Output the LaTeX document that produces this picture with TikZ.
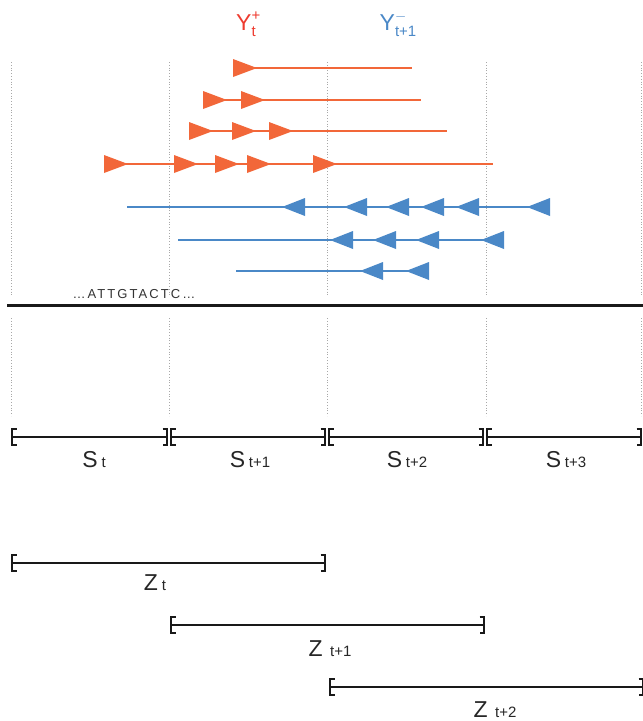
\documentclass[tikz,border=0pt]{standalone}
\usepackage{fontspec}
\setmainfont{Liberation Sans}
\definecolor{ored}{HTML}{F26739}
\definecolor{tred}{HTML}{EE3B2F}
\definecolor{bl}{HTML}{4A88C7}
\definecolor{gridgray}{HTML}{A8A8A8}
\newcommand{\bigf}{\fontsize{23}{23}\selectfont}
\newcommand{\subf}{\fontsize{15}{15}\selectfont}
\begin{document}
\begin{tikzpicture}[x=1pt,y=-1pt,
  grid/.style={draw=gridgray,line width=0.8pt,dotted},
  redline/.style={draw=ored,line width=1.4pt},
  blueline/.style={draw=bl,line width=2pt},
  fwd/.pic={\fill[ored] (0,-9) -- (24,0) -- (0,9) -- cycle;},
  rev/.pic={\fill[bl] (0,0) -- (23,-9) -- (23,9) -- cycle;},
  seg/.style={draw=black!90,line width=2pt},
  brkL/.pic={\draw[black!90,line width=2pt] (4.5,-8) -- (0,-8) -- (0,8) -- (4.5,8);},
  brkR/.pic={\draw[black!90,line width=2pt] (-4.5,-8) -- (0,-8) -- (0,8) -- (-4.5,8);},
  lab/.style={anchor=base,inner sep=0pt,text=black!85}
]
\useasboundingbox (0,0) rectangle (643,721);

% headers
\node[anchor=base,inner sep=0pt,text=tred] (yplus) at (246,30) {\bigf Y\rlap{\raisebox{10pt}{\subf +}}\raisebox{-6pt}{\subf t}};
\node[anchor=base,inner sep=0pt,text=bl] (yminus) at (398,30) {\bigf Y\rlap{\raisebox{10pt}{\subf $-$}}\raisebox{-6pt}{\subf t+1}};

% dotted grid lines
\foreach \x [count=\i] in {11,169,327,486,641}{
  \coordinate (gt\i) at (\x,62);
  \coordinate (gb\i) at (\x,297);
  \coordinate (ht\i) at (\x,318);
  \coordinate (hb\i) at (\x,416);
  \draw[grid] (gt\i) -- (gb\i);
  \draw[grid] (ht\i) -- (hb\i);
}

% red forward reads
\coordinate (r1s) at (233,68);  \coordinate (r1e) at (412,68);
\coordinate (r2s) at (203,100); \coordinate (r2e) at (421,100);
\coordinate (r3s) at (189,131); \coordinate (r3e) at (447,131);
\coordinate (r4s) at (104,164); \coordinate (r4e) at (493,164);
\draw[redline] (r1s) -- (r1e);
\draw[redline] (r2s) -- (r2e);
\draw[redline] (r3s) -- (r3e);
\draw[redline] (r4s) -- (r4e);
\foreach \x in {233} \pic at (\x,68) {fwd};
\foreach \x in {203,241} \pic at (\x,100) {fwd};
\foreach \x in {189,232,269} \pic at (\x,131) {fwd};
\foreach \x in {104,174,215,247,313} \pic at (\x,164) {fwd};

% blue reverse reads
\coordinate (b1s) at (127,207); \coordinate (b1e) at (549,207);
\coordinate (b2s) at (178,240); \coordinate (b2e) at (503,240);
\coordinate (b3s) at (236,271); \coordinate (b3e) at (429,271);
\draw[blueline] (b1s) -- (b1e);
\draw[blueline] (b2s) -- (b2e);
\draw[blueline] (b3s) -- (b3e);
\foreach \x in {282,344,386,421,456,527} \pic at (\x,207) {rev};
\foreach \x in {330,373,416,481} \pic at (\x,240) {rev};
\foreach \x in {360,406} \pic at (\x,271) {rev};

% sequence and genome line
\node[inner sep=0pt,text=black!80,anchor=base] (seq) at (134,298) {\fontsize{13}{13}\selectfont\addfontfeature{LetterSpace=16}…ATTGTACTC…};
\coordinate (gl) at (7,305); \coordinate (gr) at (643,305);
\draw[black!90,line width=3pt] (gl) -- (gr);

% S segments
\foreach \a/\b [count=\i] in {12/167,171/325,329/483,487/641}{
  \coordinate (s\i a) at (\a,437);
  \coordinate (s\i b) at (\b,437);
  \draw[seg] (s\i a) -- (s\i b);
  \pic at (s\i a) {brkL};
  \pic at (s\i b) {brkR};
}
\node[lab] (sl1) at (94,467) {\bigf S\,{\subf t}};
\node[lab] (sl2) at (250,467) {\bigf S\,{\subf t+1}};
\node[lab] (sl3) at (407,467) {\bigf S\,{\subf t+2}};
\node[lab] (sl4) at (566,467) {\bigf S\,{\subf t+3}};

% Z segments
\coordinate (z1a) at (12,563);  \coordinate (z1b) at (325,563);
\coordinate (z2a) at (171,625); \coordinate (z2b) at (484,625);
\coordinate (z3a) at (330,687); \coordinate (z3b) at (643,687);
\draw[seg] (z1a) -- (z1b); \pic at (z1a) {brkL}; \pic at (z1b) {brkR};
\draw[seg] (z2a) -- (z2b); \pic at (z2a) {brkL}; \pic at (z2b) {brkR};
\draw[seg] (z3a) -- (z3b); \pic at (z3a) {brkL}; \pic at (z3b) {brkR};
\node[lab] (zl1) at (155,590) {\bigf Z\,{\subf t}};
\node[lab] (zl2) at (330,656) {\bigf Z\,\,{\subf t+1}};
\node[lab] (zl3) at (495,717) {\bigf Z\,\,{\subf t+2}};
\end{tikzpicture}
\end{document}
